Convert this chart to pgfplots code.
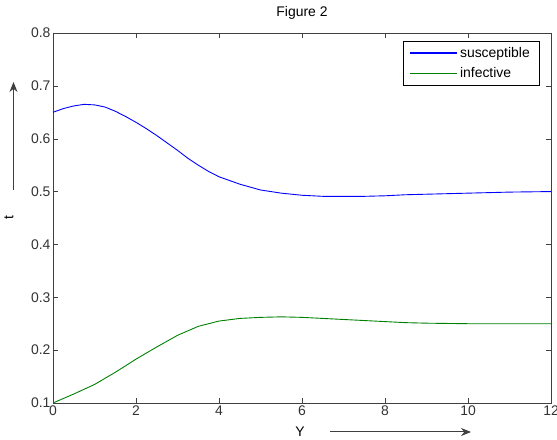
\documentclass[border=0pt]{standalone}
\usepackage{fontspec}
\setmainfont{Liberation Sans}
\usepackage{pgfplots}
\pgfplotsset{compat=1.18}
\usetikzlibrary{arrows.meta}

\definecolor{mblue}{RGB}{0,0,255}
\definecolor{mgreen}{RGB}{0,128,0}
\definecolor{axgray}{RGB}{64,64,64}

\begin{document}
\begin{tikzpicture}[x=1bp,y=1bp]
  \useasboundingbox (-53,-37) rectangle (504,403);
  \begin{axis}[
    scale only axis,
    width=498bp, height=370bp,
    xmin=0, xmax=12, ymin=0.1, ymax=0.8,
    xtick={0,2,...,12},
    ytick={0.1,0.2,0.3,0.4,0.5,0.6,0.7,0.8},
    yticklabel style={/pgf/number format/fixed, /pgf/number format/precision=1,
      /pgf/number format/fixed zerofill, xshift=1bp},
    /pgf/number format/assume math mode=true,
    tick align=inside,
    major tick length=5bp,
    axis line style={axgray},
    every tick/.style={axgray},
    tick label style={font=\fontsize{14}{16}\selectfont, text=black!80},
    xticklabel style={yshift=1bp},
    title={Figure 2},
    title style={at={(0.5,1)}, anchor=base, yshift=11bp, font=\fontsize{14}{16}\selectfont},
    legend style={
      at={(1,1)}, anchor=north east, xshift=-12bp, yshift=-8bp,
      fill=white, font=\fontsize{14}{16}\selectfont,
      inner xsep=7bp, inner ysep=4bp, row sep=5bp,
      cells={anchor=west},
    },
  ]
    \addplot[draw=mblue, line width=0.9pt,
      legend image code/.code={\draw[mblue, line width=1.2pt] (0bp,0bp) -- (47bp,0bp);}]
      coordinates {
      (0,0.650)(0.25,0.657)(0.5,0.662)(0.75,0.665)(1.0,0.664)(1.25,0.660)
      (1.5,0.652)(1.75,0.642)(2.0,0.631)(2.25,0.619)(2.5,0.606)(2.75,0.592)
      (3.0,0.578)(3.25,0.563)(3.5,0.550)(3.75,0.538)(4.0,0.528)(4.5,0.514)
      (5.0,0.503)(5.5,0.497)(6.0,0.493)(6.5,0.491)(7.0,0.491)(7.5,0.491)
      (8.0,0.492)(8.5,0.494)(9.0,0.495)(9.5,0.496)(10,0.497)(11,0.499)(12,0.500)};
    \addlegendentry{susceptible}
    \addplot[draw=mgreen, line width=0.9pt,
      legend image code/.code={\draw[mgreen, line width=1.2pt] (0bp,0bp) -- (47bp,0bp);}]
      coordinates {
      (0,0.100)(0.5,0.117)(1.0,0.135)(1.5,0.158)(2.0,0.183)(2.5,0.206)
      (3.0,0.228)(3.5,0.245)(4.0,0.255)(4.5,0.260)(5.0,0.262)(5.5,0.263)
      (6.0,0.262)(6.5,0.260)(7.0,0.258)(7.5,0.256)(8.0,0.254)(8.5,0.252)
      (9.0,0.251)(10,0.250)(11,0.250)(12,0.250)};
    \addlegendentry{infective}
  \end{axis}
  % hand-drawn axis labels with arrows
  \node[rotate=90, font=\fontsize{14}{16}\selectfont] at (-44,185) {t};
  \draw[axgray, line width=1pt, -{Stealth[length=10bp, width=8bp]}] (-39.5,213) -- (-39.5,321);
  \node[font=\fontsize{14}{16}\selectfont] at (247,-29) {Y};
  \draw[axgray, line width=1pt, -{Stealth[length=10bp, width=8bp]}] (277,-29) -- (418,-29);
\end{tikzpicture}
\end{document}
